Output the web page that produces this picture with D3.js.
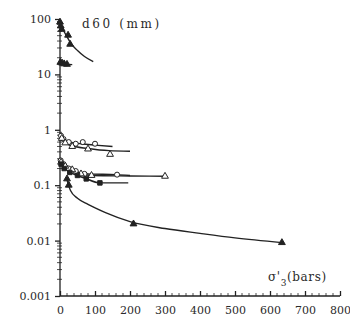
<!DOCTYPE html>
<html>
<head>
<meta charset="utf-8">
<script src="https://cdn.jsdelivr.net/npm/d3@7"></script>
<style>
  body { margin: 0; background: #fff; }
  svg text { font-family: "DejaVu Serif", "Liberation Serif", serif; fill: #2a2a2a; }
</style>
</head>
<body>
<figure id="chart" style="margin:0"></figure>
<script>
// axis ticks
const xTicks = [0, 100, 200, 300, 400, 500, 600, 700, 800];
const yTicks = [0.001, 0.01, 0.1, 1, 10, 100];
const yTickLabels = ["0.001", "0.01", "0.1", "1", "10", "100"];

// top group (~50 mm), filled triangles
const s1X = [0, 2, 5, 23, 29];
const s1Y = [88, 75, 65, 51, 35];
const fit1X = [0, 10, 20, 30, 50, 70, 95];
const fit1Y = [88, 62, 48, 37, 27, 21, 17];

// ~15 mm group, filled triangles
const s2X = [1, 6, 12, 20];
const s2Y = [16.5, 16, 15.5, 15.2];
const fit2X = [0, 15, 35];
const fit2Y = [16.8, 15.5, 15];

// ~0.7 mm, open circles
const s3X = [3, 10, 25, 45, 65, 100];
const s3Y = [0.78, 0.68, 0.6, 0.56, 0.6, 0.56];
const fit3X = [0, 20, 60, 100, 150];
const fit3Y = [0.8, 0.62, 0.56, 0.53, 0.5];

// ~0.5 mm, open triangles
const s4X = [5, 15, 35, 80, 143];
const s4Y = [0.7, 0.58, 0.5, 0.45, 0.36];
const fit4X = [0, 30, 80, 140, 200];
const fit4Y = [0.72, 0.52, 0.46, 0.42, 0.41];

// ~0.2 mm, open circles
const s5X = [2, 10, 25, 45, 70, 163];
const s5Y = [0.28, 0.24, 0.2, 0.18, 0.16, 0.155];
const fit5X = [0, 30, 80, 160, 200];
const fit5Y = [0.29, 0.2, 0.16, 0.155, 0.15];

// ~0.2 mm, open triangles (to 300 bars)
const s6X = [3, 15, 35, 60, 90, 300];
const s6Y = [0.26, 0.22, 0.19, 0.16, 0.15, 0.145];
const fit6X = [0, 30, 90, 200, 300];
const fit6Y = [0.27, 0.2, 0.15, 0.147, 0.145];

// filled squares
const s7X = [3, 12, 28, 50, 75, 114];
const s7Y = [0.24, 0.2, 0.17, 0.15, 0.13, 0.11];
const fit7X = [0, 30, 70, 114, 195];
const fit7Y = [0.25, 0.17, 0.135, 0.11, 0.11];

// lowest curve, filled triangles
const s8X = [20, 25, 210, 634];
const s8Y = [0.13, 0.1, 0.02, 0.0092];
const fit8X = [20, 30, 50, 80, 130, 200, 300, 400, 500, 634];
const fit8Y = [0.125, 0.08, 0.058, 0.045, 0.032, 0.022, 0.0165, 0.0135, 0.0112, 0.0092];

const width = 350, height = 325;
const svg = d3.select("#chart").append("svg")
  .attr("width", width)
  .attr("height", height);

const x = d3.scaleLinear().domain([0, 800]).range([60, 340]);
const y = d3.scaleLog().domain([0.001, 100]).range([296, 19]);
const ink = "#222";

// Y axis
const yAxis = svg.append("g").attr("transform", "translate(" + x(0) + ",0)")
  .call(d3.axisLeft(y).tickValues(yTicks).tickSize(5)
    .tickFormat((d, i) => yTickLabels[i]));
yAxis.selectAll("text").style("font-size", "11px").attr("x", -9);
yAxis.selectAll("line, path").attr("stroke", ink).attr("stroke-width", 1.3);
yAxis.select(".domain").attr("d", "M0," + y(100) + "V" + y(0.001));

// log minor ticks
const minor = y.ticks().filter(v => yTicks.indexOf(v) < 0);
svg.append("g").selectAll("line").data(minor).enter().append("line")
  .attr("x1", x(0) - 3).attr("x2", x(0) + 2)
  .attr("y1", d => y(d)).attr("y2", d => y(d))
  .attr("stroke", ink).attr("stroke-width", 0.8);

// X axis
const xAxis = svg.append("g").attr("transform", "translate(0," + y(0.001) + ")")
  .call(d3.axisBottom(x).tickValues(xTicks).tickSize(-5).tickFormat(d3.format("d")));
xAxis.selectAll("text").style("font-size", "11px").attr("y", 10);
xAxis.selectAll("line, path").attr("stroke", ink).attr("stroke-width", 1.3);
xAxis.select(".domain").attr("d", "M" + x(0) + ",0H" + x(800));
svg.append("g").selectAll("line").data(d3.range(20, 800, 20).filter(v => v % 100))
  .enter().append("line")
  .attr("x1", d => x(d)).attr("x2", d => x(d))
  .attr("y1", y(0.001) - 3).attr("y2", y(0.001))
  .attr("stroke", ink).attr("stroke-width", 0.8);

// lines
const line = d3.line().x(d => x(d[0])).y(d => y(d[1])).curve(d3.curveMonotoneX);
const fits = [[fit1X, fit1Y], [fit2X, fit2Y], [fit3X, fit3Y], [fit4X, fit4Y],
  [fit5X, fit5Y], [fit6X, fit6Y], [fit7X, fit7Y], [fit8X, fit8Y]];
svg.append("g").selectAll("path").data(fits).enter().append("path")
  .attr("d", f => line(f[0].map((v, i) => [v, f[1][i]])))
  .attr("fill", "none").attr("stroke", ink).attr("stroke-width", 1.4);

// markers
const series = [
  { xs: s1X, ys: s1Y, sym: d3.symbolTriangle, fill: true },
  { xs: s2X, ys: s2Y, sym: d3.symbolTriangle, fill: true },
  { xs: s3X, ys: s3Y, sym: d3.symbolCircle, fill: false },
  { xs: s4X, ys: s4Y, sym: d3.symbolTriangle, fill: false },
  { xs: s5X, ys: s5Y, sym: d3.symbolCircle, fill: false },
  { xs: s6X, ys: s6Y, sym: d3.symbolTriangle, fill: false },
  { xs: s7X, ys: s7Y, sym: d3.symbolSquare, fill: true },
  { xs: s8X, ys: s8Y, sym: d3.symbolTriangle, fill: true }
];
series.forEach(s => {
  svg.append("g").selectAll("path")
    .data(s.xs.map((v, i) => [v, s.ys[i]]))
    .enter().append("path")
    .attr("d", d3.symbol().type(s.sym).size(20))
    .attr("transform", d => "translate(" + x(d[0]) + "," + y(d[1]) + ")")
    .attr("fill", s.fill ? ink : "#fff")
    .attr("stroke", ink).attr("stroke-width", 1);
});

// titles
svg.append("text").attr("x", 82).attr("y", 28)
  .style("font-size", "12px").style("letter-spacing", "2.6px")
  .text("d60 (mm)");

const xl = svg.append("text").attr("x", 268).attr("y", 281)
  .style("font-size", "12px").style("letter-spacing", "0.6px");
xl.append("tspan").text("σ'");
xl.append("tspan").attr("dy", 5).style("font-size", "9px").text("3");
xl.append("tspan").attr("dy", -5).text("(bars)");
</script>
</body>
</html>
